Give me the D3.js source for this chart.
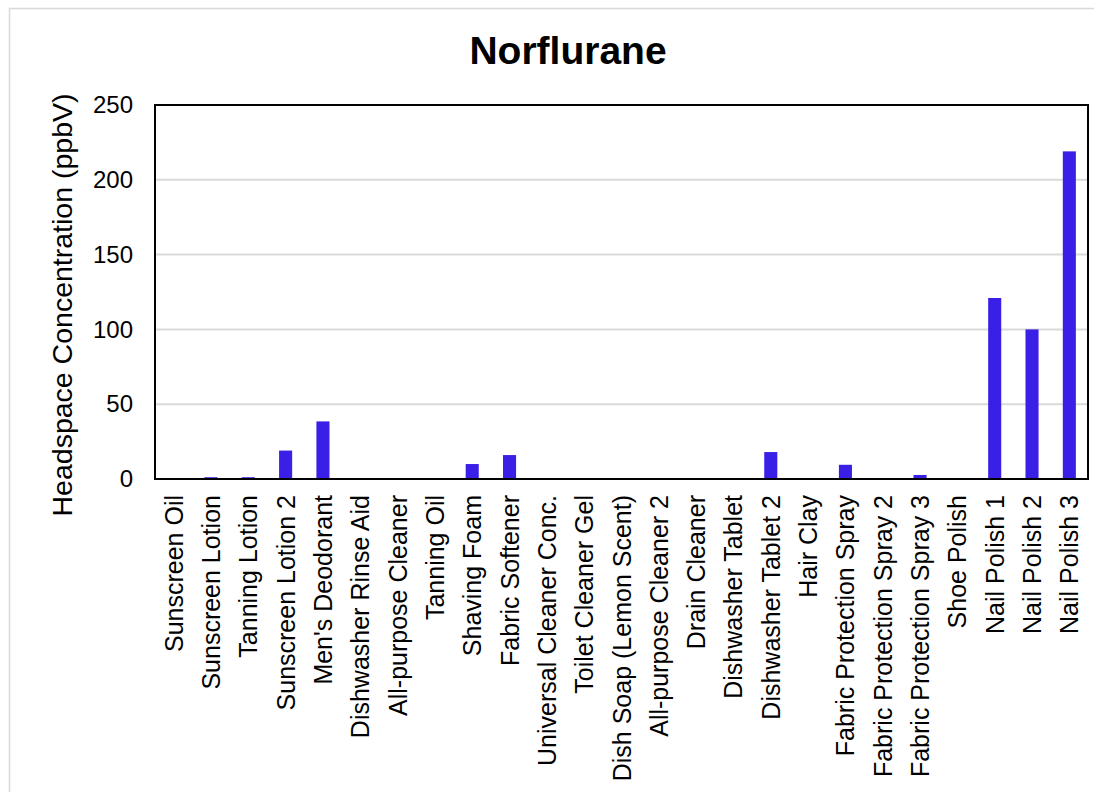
<!DOCTYPE html>
<html><head><meta charset="utf-8">
<script src="https://cdn.jsdelivr.net/npm/d3@7"></script>
<style>body{margin:0;background:#fff}svg{display:block}</style>
</head><body>
<script>
const categories = ["Sunscreen Oil","Sunscreen Lotion","Tanning Lotion","Sunscreen Lotion 2","Men's Deodorant","Dishwasher Rinse Aid","All-purpose Cleaner","Tanning Oil","Shaving Foam","Fabric Softener","Universal Cleaner Conc.","Toilet Cleaner Gel","Dish Soap (Lemon Scent)","All-purpose Cleaner 2","Drain Cleaner","Dishwasher Tablet","Dishwasher Tablet 2","Hair Clay","Fabric Protection Spray","Fabric Protection Spray 2","Fabric Protection Spray 3","Shoe Polish","Nail Polish 1","Nail Polish 2","Nail Polish 3"];
const values = [0,1.2,1.2,19,38.5,0,0,0,10,16,0,0,0,0,0,0,18,0,9.5,0,2.7,0,121,100,219];
const yTicks = [0,50,100,150,200,250];
const title = "Norflurane";
const yTitle = "Headspace Concentration (ppbV)";

const W=1094,H=792;
const FONT="Liberation Sans, Arial, sans-serif";
const svg=d3.select("body").append("svg").attr("width",W).attr("height",H);
svg.append("rect").attr("x",9.5).attr("y",8.5).attr("width",W).attr("height",H).attr("fill","#fff").attr("stroke","#d9d9d9").attr("stroke-width",1.5);

const m={l:155,t:105,r:1088,b:479};
const x=d3.scaleBand().domain(categories).range([m.l,m.r]).paddingInner(0.65).paddingOuter(0.325);
const y=d3.scaleLinear().domain([0,250]).range([m.b,m.t]);

svg.append("g").selectAll("line").data(yTicks.slice(1,-1)).join("line")
  .attr("x1",m.l).attr("x2",m.r).attr("y1",d=>y(d)).attr("y2",d=>y(d))
  .attr("stroke","#d9d9d9").attr("stroke-width",2);

svg.append("g").selectAll("rect").data(values).join("rect")
  .attr("x",(d,i)=>x(categories[i])).attr("width",x.bandwidth())
  .attr("y",d=>y(d)).attr("height",d=>y(0)-y(d)).attr("fill","#3a1fe6");

svg.append("rect").attr("x",m.l).attr("y",m.t).attr("width",m.r-m.l).attr("height",m.b-m.t)
  .attr("fill","none").attr("stroke","#000").attr("stroke-width",2);

const ya=svg.append("g").attr("transform",`translate(${m.l},0)`)
  .call(d3.axisLeft(y).tickValues(yTicks).tickSize(0).tickPadding(22));
ya.select(".domain").remove();
ya.selectAll("text").attr("font-family",FONT).attr("font-size",24).attr("fill","#000");

const xa=svg.append("g").attr("transform",`translate(0,${m.b})`)
  .call(d3.axisBottom(x).tickSize(0).tickPadding(0));
xa.select(".domain").remove();
xa.selectAll("text").attr("font-family",FONT).attr("font-size",25).attr("fill","#000")
  .attr("text-anchor","end").attr("dy",null).attr("y",0)
  .attr("transform","translate(9,16) rotate(-90)");

svg.append("text").attr("x",568).attr("y",64).attr("text-anchor","middle")
  .attr("font-family",FONT).attr("font-weight","bold").attr("font-size",39).text(title);
svg.append("text").attr("transform","translate(72,305) rotate(-90)").attr("text-anchor","middle")
  .attr("font-family",FONT).attr("font-size",28.5).text(yTitle);
</script>
</body></html>
